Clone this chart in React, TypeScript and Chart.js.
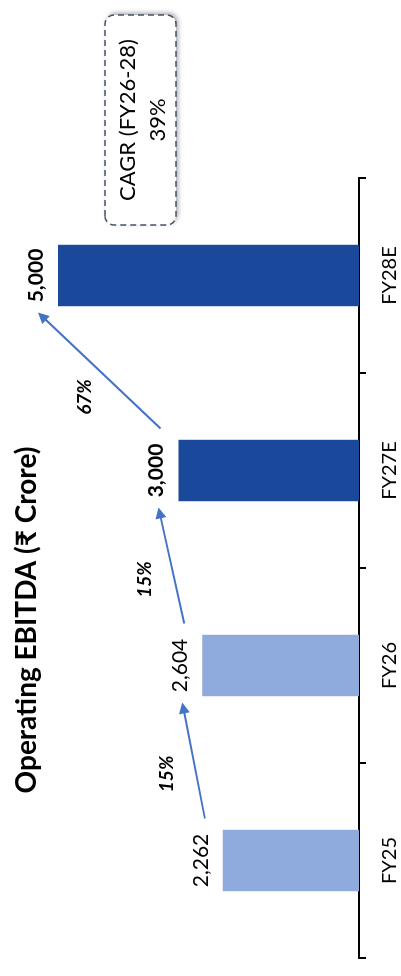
import React, { useEffect, useRef } from "react";
import { Chart, registerables } from "chart.js";

Chart.register(...registerables);

const categories = ["FY25", "FY26", "FY27E", "FY28E"];
const ebitda = [2262, 2604, 3000, 5000];
const isEstimate = [false, false, true, true];
const growthLabels = ["15%", "15%", "67%"];
const titleText = "Operating EBITDA (₹ Crore)";
const cagrLines = ["CAGR (FY26-28)", "39%"];

const FONT = "Lato, 'Noto Sans', sans-serif";
const W = 976;
const H = 401;

const overlay = {
  id: "overlay",
  afterDatasetsDraw(chart: any) {
    const ctx = chart.ctx as CanvasRenderingContext2D;
    const bars = chart.getDatasetMeta(0).data;
    const area = chart.chartArea;
    ctx.save();

    // value labels
    ctx.fillStyle = "#000";
    ctx.textAlign = "center";
    ctx.textBaseline = "alphabetic";
    bars.forEach((b: any, i: number) => {
      ctx.font = `${isEstimate[i] ? "bold " : ""}21px ${FONT}`;
      ctx.fillText(ebitda[i].toLocaleString("en-US"), b.x, b.y - 15);
    });

    // growth arrows
    for (let i = 0; i < bars.length - 1; i++) {
      const a = bars[i];
      const c = bars[i + 1];
      const sx = a.x + 42, sy = a.y - 18;
      const ex = c.x - 37, ey = c.y - 20;
      const dx = ex - sx, dy = ey - sy;
      const len = Math.hypot(dx, dy);
      const ux = dx / len, uy = dy / len;
      const head = 11, hw = 5.5;
      ctx.strokeStyle = "#4472C4";
      ctx.fillStyle = "#4472C4";
      ctx.lineWidth = 2;
      ctx.beginPath();
      ctx.moveTo(sx, sy);
      ctx.lineTo(ex - ux * head * 0.8, ey - uy * head * 0.8);
      ctx.stroke();
      ctx.beginPath();
      ctx.moveTo(ex, ey);
      ctx.lineTo(ex - ux * head - uy * hw, ey - uy * head + ux * hw);
      ctx.lineTo(ex - ux * head + uy * hw, ey - uy * head - ux * hw);
      ctx.closePath();
      ctx.fill();

      // label
      let nx = uy, ny = -ux;
      if (ny > 0) { nx = -nx; ny = -ny; }
      const mx = (sx + ex) / 2, my = (sy + ey) / 2;
      const lx = mx + nx * 29 - ux * 8;
      const ly = my + ny * 29 - uy * 8;
      ctx.fillStyle = "#000";
      ctx.font = `italic bold 19px ${FONT}`;
      ctx.textAlign = "center";
      ctx.textBaseline = "middle";
      ctx.fillText(growthLabels[i], lx, ly);
    }

    // title
    ctx.fillStyle = "#000";
    ctx.font = `bold 28px ${FONT}`;
    ctx.textAlign = "center";
    ctx.textBaseline = "alphabetic";
    ctx.fillText(titleText, 356, 36);

    // CAGR box
    const bx = area.right - 47, by = 105, bw = 210, bh = 71;
    ctx.save();
    ctx.shadowColor = "rgba(0,0,0,0.35)";
    ctx.shadowBlur = 5;
    ctx.shadowOffsetX = 2;
    ctx.shadowOffsetY = 2;
    ctx.fillStyle = "#fff";
    ctx.beginPath();
    ctx.roundRect(bx, by, bw, bh, 9);
    ctx.fill();
    ctx.restore();
    ctx.strokeStyle = "#44546A";
    ctx.lineWidth = 1.5;
    ctx.setLineDash([6, 4]);
    ctx.beginPath();
    ctx.roundRect(bx, by, bw, bh, 9);
    ctx.stroke();
    ctx.setLineDash([]);
    ctx.fillStyle = "#000";
    ctx.font = `22px ${FONT}`;
    ctx.textAlign = "center";
    ctx.textBaseline = "middle";
    ctx.fillText(cagrLines[0], bx + bw / 2, by + 22.5);
    ctx.fillText(cagrLines[1], bx + bw / 2, by + 52.5);

    ctx.restore();
  },
};

export default function App() {
  const ref = useRef<HTMLCanvasElement | null>(null);
  useEffect(() => {
    if (!ref.current) return;
    const chart = new Chart(ref.current, {
      type: "bar",
      data: {
        labels: categories,
        datasets: [
          {
            data: ebitda,
            backgroundColor: isEstimate.map((e) => (e ? "#1A489B" : "#8FAADC")),
            categoryPercentage: 1,
            barPercentage: 0.315,
          },
        ],
      },
      options: {
        animation: false,
        responsive: false,
        devicePixelRatio: 1,
        layout: { padding: { top: 28, left: 18, right: 178, bottom: 0 } },
        plugins: { legend: { display: false }, tooltip: { enabled: false }, title: { display: false } },
        scales: {
          x: {
            afterFit: (s: any) => { s.height = 42; },
            grid: { display: true, drawOnChartArea: false, drawTicks: true, tickLength: 7, color: "#000", lineWidth: 2 },
            border: { display: true, color: "#000", width: 2 },
            ticks: { color: "#000", font: { family: FONT, size: 20 }, padding: 12 },
          },
          y: { display: false, min: 0, max: 5500 },
        },
      },
      plugins: [overlay],
    });
    return () => chart.destroy();
  }, []);
  return (
    <div style={{ position: "fixed", left: 0, top: 0, width: 401, height: 976, overflow: "hidden", background: "#fff" }}>
      <div
        style={{
          position: "absolute",
          left: 0,
          top: 0,
          width: W,
          height: H,
          transformOrigin: "0 0",
          transform: `translate(0px, ${W}px) rotate(-90deg)`,
        }}
      >
        <canvas ref={ref} width={W} height={H} style={{ display: "block", width: W, height: H }} />
      </div>
    </div>
  );
}
